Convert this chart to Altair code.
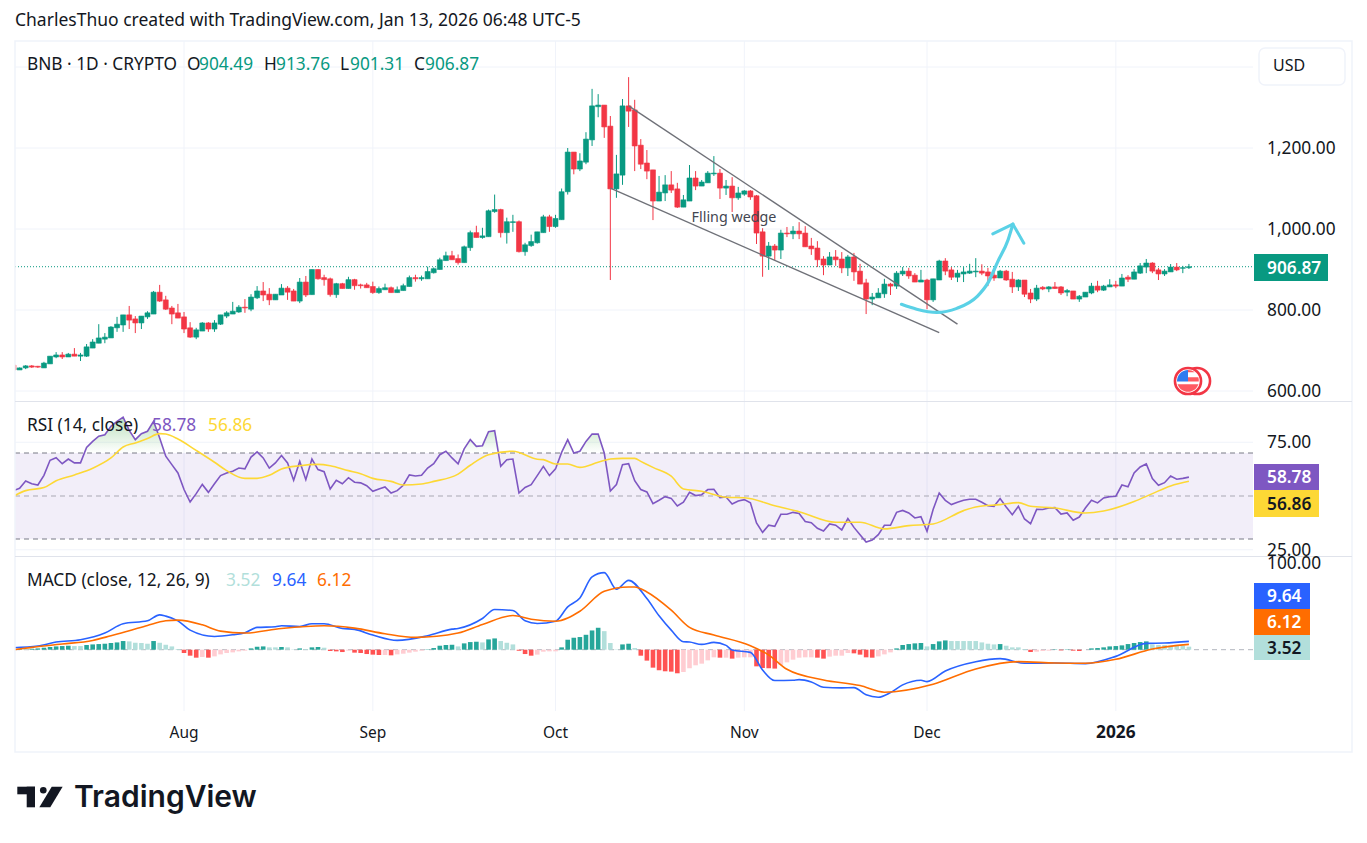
import altair as alt
import pandas as pd

# ---------- candles (daily, 2025-07-04 .. 2026-01-13) ----------
opens = [
 664,652,657,662,661,657,667,684,689,684,691,686,686,706,718,728,731,756,763,788,778,768,783,790,844,825,805,793,
 783,756,733,748,768,753,765,785,790,795,807,802,830,847,839,825,837,854,847,822,869,838,900,880,877,838,865,853,875,862,862,
 858,843,850,855,843,848,858,880,877,877,892,900,922,934,927,917,954,991,979,981,1043,1048,991,1016,1018,944,959,966,991,1030,
 1006,1023,1092,1190,1148,1165,1220,1302,1306,1254,1099,1133,1304,1294,1207,1163,1146,1069,1089,1109,1099,1054,1069,1126,1106,1114,1136,1138,1101,1106,1077,
 1086,1094,1082,993,933,958,948,990,988,995,990,958,953,926,911,931,926,904,931,896,867,827,830,840,864,859,889,896,886,869,
 874,825,874,921,899,881,889,891,894,896,894,886,879,896,876,857,874,842,827,856,852,857,857,844,847,827,832,842,859,849,857,
 862,859,881,876,891,906,916,899,889,894,906,903,904.49]
highs = [
 666,658,664,664,662,672,686,696,696,694,706,694,716,728,765,743,760,783,788,810,785,785,797,847,862,835,810,815,
 795,770,756,770,770,775,788,797,820,812,827,839,859,869,854,839,864,859,852,879,884,900,900,887,880,867,867,882,877,865,867,
 870,858,865,858,858,865,885,887,885,907,905,929,944,946,937,959,996,1008,1003,1048,1085,1050,1028,1035,1021,966,986,993,1035,1035,
 1035,1100,1200,1190,1187,1239,1346,1333,1306,1279,1183,1321,1375,1319,1222,1195,1146,1131,1133,1143,1114,1084,1158,1143,1121,1143,1180,1148,1121,1128,1104,
 1096,1096,1084,1002,968,963,998,1005,1007,1017,1007,978,970,933,943,948,943,936,941,914,877,842,854,877,867,896,906,904,891,899,
 877,877,924,928,906,899,906,914,928,913,904,896,899,899,894,876,874,852,862,859,859,869,859,852,847,837,844,867,872,862,876,
 872,889,886,901,916,926,918,904,901,913.5,916,909,913.76]
lows = [
 650,652,654,657,657,657,667,681,679,684,686,674,684,706,718,718,731,746,746,753,743,753,778,790,820,800,765,780,
 743,731,728,748,746,746,763,780,790,793,793,797,827,822,812,825,837,825,822,817,832,838,875,860,833,830,853,853,850,853,855,
 840,840,850,843,843,848,858,870,872,877,890,900,922,924,912,917,946,979,976,981,1040,979,964,993,942,934,956,964,991,993,
 1003,1023,1085,1135,1143,1160,1205,1276,1225,874,1077,1109,1252,1143,1148,1123,1022,1069,1069,1089,1052,1054,1069,1096,1106,1114,1131,1074,1084,1042,1072,
 1082,1072,963,882,899,923,926,980,975,975,956,936,906,886,911,909,891,884,872,864,790,812,830,830,837,852,884,877,869,869,
 802,820,874,886,874,869,869,889,881,886,859,872,879,872,842,847,832,817,822,849,844,852,837,834,827,820,832,839,844,847,857,
 854,859,869,876,889,891,891,874,884,894,896,891,901.31]
closes = [
 652,657,662,659,659,669,686,689,684,691,686,689,709,721,731,733,758,765,788,775,768,785,793,844,822,802,790,780,
 753,733,751,768,753,768,788,793,797,807,805,832,847,837,825,839,854,844,822,869,837,900,877,875,838,865,853,875,860,860,855,
 843,853,855,843,850,860,880,877,880,895,902,924,934,924,917,956,991,979,983,1045,1048,991,1018,1018,944,961,969,993,1030,1006,
 1026,1092,1190,1148,1168,1222,1304,1306,1252,1099,1136,1304,1291,1205,1160,1143,1069,1091,1109,1096,1054,1072,1126,1106,1116,1138,1138,1101,1106,1077,1089,
 1094,1079,990,933,958,948,990,988,995,988,956,951,924,911,931,924,904,931,894,864,827,832,842,864,859,891,896,884,869,874,
 825,877,921,896,881,891,894,896,896,891,884,879,896,874,857,874,839,827,854,852,857,853,842,848,827,834,844,859,849,859,862,
 859,879,876,894,909,916,896,889,896,906,899,904.5,906.87]

# ---------- RSI ----------
rsi = [
 52.5,53.6,57.0,55.7,55.1,59.6,66.6,67.8,65.0,67.2,65.4,65.4,72.6,75.4,77.8,78.5,82.4,84.7,86.7,80.5,76.2,79.0,80.1,84.7,77.0,68.5,64.6,60.7,
 53.0,47.2,51.1,55.4,51.7,55.7,59.5,60.7,61.5,63.0,62.6,68.1,70.5,67.7,63.0,65.4,68.8,65.4,57.3,66.1,57.6,67.2,62.3,61.3,53.3,57.3,55.7,58.5,56.4,56.1,54.8,
 52.2,53.3,54.2,51.4,52.5,55.0,59.8,59.3,59.6,63.0,65.0,69.2,70.8,67.7,65.0,71.9,76.2,73.1,73.4,79.9,80.4,63.8,66.9,67.2,51.4,54.0,55.3,59.5,63.8,59.5,
 62.6,70.3,76.2,70.0,70.8,75.4,78.8,78.8,70.0,52.3,55.3,64.6,65.0,57.1,53.0,51.9,46.4,48.0,49.7,48.9,45.4,47.1,51.7,50.2,50.6,53.0,53.1,49.2,49.5,46.3,47.7,
 48.3,46.8,37.5,33.1,36.4,35.9,41.5,41.5,42.4,41.9,38.1,37.6,35.0,33.7,37.0,36.4,34.2,39.5,35.4,32.0,28.6,29.5,32.0,36.4,36.4,42.4,43.3,42.1,39.8,40.4,
 33.6,43.7,51.4,48.0,46.0,47.1,48.0,48.5,48.5,47.1,45.5,45.2,48.8,44.9,41.3,45.2,39.3,37.1,43.8,43.7,44.4,44.6,41.6,42.1,38.7,40.2,44.4,48.0,46.8,49.1,49.7,
 49.9,55.1,54.3,60.7,63.5,64.9,58.1,55.0,56.2,59.3,57.8,58.2,58.78]
rsi_ma_days = [0,2,5,7,10,13,16,18,20,22,24,25,27,30,33,35,38,40,42,44,47,50,52,55,57,59,62,64,67,69,73,75,78,82,86,87,89,91,93,96,98,100,102,103,105,108,110,113,117,120,125,129,135,139,143,147,151,156,158,162,165,167,171,176,179,184,187,190,193]
rsi_ma = [49.9,52.5,53.9,57.1,59.8,62.9,67.7,72.8,74.7,76.8,79.0,78.8,76.5,71.2,65.7,61.8,58.2,58.2,59.6,62.6,64.1,64.7,64.1,61.8,60.4,58.2,56.8,55.1,55.6,56.8,60.2,64.3,69.2,70.8,67.1,66.9,64.9,64.9,63.3,65.7,67.2,67.5,67.5,66.1,63.3,59.2,53.3,52.2,49.4,49.2,45.5,42.7,37.8,37.8,34.7,36.2,37.0,43.2,44.9,46.0,46.9,45.2,44.4,42.1,43.0,47.4,51.1,54.7,56.86]

# ---------- MACD ----------
macd_days = [0,4,7,11,15,18,22,24,25,27,29,33,36,38,40,43,44,47,49,51,54,56,59,63,68,72,73,77,79,82,84,86,89,91,93,95,97,99,101,104,106,108,110,111,113,115,117,118,121,123,125,128,129,131,133,136,138,140,142,144,146,149,150,153,158,162,166,171,176,181,186,189,193]
macd = [2.3,4.2,8.8,11.5,19.2,29.9,33.3,40.2,38.7,33.3,22.6,15.3,17.2,19.5,25.7,26.4,27.6,26.8,29.9,29.9,24.5,23.4,16.9,10.7,16.1,23.7,24.5,36.0,46.3,45.2,33.3,30.3,32.9,49.4,59.7,83.9,88.9,69.7,80.0,59.0,39.1,22.6,9.2,8.8,6.1,8.4,5.0,-0.4,-3.1,-23.4,-35.6,-35.2,-34.5,-37.2,-43.3,-44.0,-43.7,-52.1,-54.8,-49.4,-40.6,-35.2,-36.8,-24.5,-13.8,-10.3,-15.7,-15.3,-16.1,-7.7,7.3,7.7,9.64]
signal_days = [0,3,8,13,16,19,22,25,27,31,34,38,44,51,56,61,66,73,77,82,85,89,93,97,101,102,104,108,111,115,121,124,127,133,139,143,151,158,165,171,176,181,187,193]
signal = [0,2.7,6.5,10.7,16.1,21.8,28.0,33.3,34.1,28.7,21.4,19.2,24.5,27.6,24.9,18.4,14.2,19.2,29.1,39.4,35.2,32.9,44.4,67.4,72.4,72.4,66.6,45.6,25.7,16.9,4.6,-6.1,-22.6,-34.9,-41.4,-49.0,-39.8,-22.2,-13.8,-15.3,-15.7,-11.1,0.8,6.12]
hist = [
 .4,1.1,.8,1.1,1.5,2.3,3.1,3.8,4.2,4.6,4.2,4.2,5.4,6.1,6.5,6.9,7.7,8.4,10,9.6,8,7.7,6.9,10,8,5.7,3.8,.8,
 -3.8,-6.9,-9.2,-8.4,-9.2,-7.7,-5.4,-3.8,-3.1,-1.9,-1.1,1.5,3.4,3.8,2.7,2.7,3.1,2.7,.4,1.5,.8,2.7,3.1,2.3,-1.5,-1.9,-2.7,-1.1,-3.4,-3.8,-5,
 -5.7,-6.1,-6.1,-6.5,-5.4,-4.6,-3.4,-2.3,-1.1,.4,1.9,4.6,5.4,5.7,3.8,7.3,8.8,9.2,8.4,11.9,13,10,8,6.1,-1.1,-5,-6.9,-5.7,-2.3,-1.9,-1.9,
 2.7,11.5,13.8,14.6,17.2,22.2,25.3,21.4,7.7,.4,6.1,6.9,1.9,-6.9,-12.6,-20.7,-23.7,-24.9,-25.3,-27.2,-25.7,-21.4,-18,-16.1,-12.3,-8.8,-9.2,-9.2,-10.3,-9.2,
 -8.8,-8.8,-19.2,-21.1,-21.4,-21.8,-17.6,-14.6,-11.5,-9.2,-8.8,-8.8,-9.2,-10.3,-8,-6.9,-6.9,-3.8,-4.2,-5.7,-8.8,-9.2,-7.7,-5.4,-3.1,1.5,5.4,6.5,7.3,7.7,
 3.8,6.5,9.6,10.7,10,10,10,10,10,8.4,6.9,6.1,6.5,4.6,2.7,2.7,.8,-2.7,-2.3,-1.5,-1.1,.4,-.8,.4,-1.1,-1.5,0,1.5,1.9,2.7,3.8,
 4.2,5,6.5,7.7,8.8,9.6,6.1,5.4,5.4,4.6,4.6,4.6,3.52]

# ---------- axis text ----------
price_ticks = [1400, 1200, 1000, 800, 600]
price_labels = [(1200, "1,200.00"), (1000, "1,000.00"), (800, "800.00"), (600, "600.00")]
rsi_ticks = [75, 25]
macd_tick = 100
month_days = [28, 59, 89, 120, 150, 181]
month_names = ["Aug", "Sep", "Oct", "Nov", "Dec", "2026"]
last_close = 906.87

# ---------- drawings ----------
upper_days, upper_prices = [101, 155], [1304, 765]
lower_days, lower_prices = [98, 152], [1101, 744]
curve_days = [145.8, 148.3, 151.6, 154.9, 158.2, 160, 161.6, 163.3, 164.1]
curve_prices = [814, 802, 794, 804, 833, 867, 919, 973, 1012]
head_days = [160.8, 164.1, 165.9]
head_prices = [988, 1012, 965]

days = list(range(len(closes)))
df = pd.DataFrame({"day": days, "o": opens, "h": highs, "l": lows, "c": closes})
up = df[df.c >= df.o]
down = df[df.c < df.o]
rsi_df = pd.DataFrame({"day": list(range(len(rsi))), "rsi": rsi})
rsi_df["top"] = rsi_df.rsi.clip(lower=70)
rsi_df["base"] = 70
ma_df = pd.DataFrame({"day": rsi_ma_days, "v": rsi_ma})
macd_df = pd.DataFrame({"day": macd_days, "v": macd})
sig_df = pd.DataFrame({"day": signal_days, "v": signal})

shade = []
for i, v in enumerate(hist):
    prev = hist[i - 1] if i else 0
    if v >= 0:
        shade.append("#26a69a" if v > prev else "#b2dfdb")
    else:
        shade.append("#ff5252" if v < prev else "#ffcdd2")
hist_df = pd.DataFrame({"day": list(range(len(hist))), "v": hist, "zero": 0, "shade": shade})

FONT = "Noto Sans"
UP, DOWN = "#089981", "#f23645"
GRID = "#f0f3fa"
one = pd.DataFrame({"k": [0]})

def scale_y(dom, rng):
    return alt.Scale(domain=dom, range=rng, nice=False, zero=False)

PRICE = scale_y([600, 1400], [383, 59])
RSI = scale_y([30, 70], [531, 445])
MACD = scale_y([0, 100], [641.7, 555])
X = alt.X("day:Q", scale=alt.Scale(domain=[0, 204], range=[5.5, 1247.9], nice=False, zero=False, padding=0), axis=None)

def Yf(field, sc):
    return alt.Y(f"{field}:Q", scale=sc, axis=None)

def px(v):
    return alt.value(v - 8)

def label(text, x, y, color="#131722", size=17.3, weight="normal", align="left", font=FONT):
    return alt.Chart(one).mark_text(align=align, baseline="middle", font=font, fontSize=size,
                                    fontWeight=weight, color=color).encode(
        x=px(x), y=px(y), text=alt.value(text))

def box(x0, x1, y0, y1, fill, **kw):
    return alt.Chart(one).mark_rect(fill=fill, **kw).encode(x=px(x0), x2=px(x1), y=px(y0), y2=px(y1))

def sym(x, y, shape, size, **kw):
    return alt.Chart(one).mark_point(shape=shape, size=size, **kw).encode(x=px(x), y=px(y))

layers = []

# grid
layers.append(alt.Chart(pd.DataFrame({"day": month_days})).mark_rule(color=GRID, strokeWidth=1).encode(
    x=X, y=px(41), y2=px(711)))
layers.append(alt.Chart(pd.DataFrame({"p": price_ticks})).mark_rule(color=GRID, strokeWidth=1).encode(
    y=Yf("p", PRICE), x=px(15), x2=px(1253)))
layers.append(alt.Chart(pd.DataFrame({"p": rsi_ticks})).mark_rule(color=GRID, strokeWidth=1).encode(
    y=Yf("p", RSI), x=px(15), x2=px(1253)))

# price pane
layers.append(alt.Chart(pd.DataFrame({"p": [last_close]})).mark_rule(color=UP, strokeWidth=1, strokeDash=[1, 2]).encode(
    y=Yf("p", PRICE), x=px(15), x2=px(1253)))
for sub, col in ((up, UP), (down, DOWN)):
    layers.append(alt.Chart(sub).mark_rule(color=col, strokeWidth=1).encode(
        x=X, y=Yf("l", PRICE), y2=alt.Y2("h:Q")))
    layers.append(alt.Chart(sub).mark_bar(color=col, size=5, stroke=col, strokeWidth=0.6).encode(
        x=X, y=Yf("o", PRICE), y2=alt.Y2("c:Q")))
for ds, ps in ((upper_days, upper_prices), (lower_days, lower_prices)):
    layers.append(alt.Chart(pd.DataFrame({"day": ds, "p": ps})).mark_line(color="#6f7178", strokeWidth=1.4).encode(
        x=X, y=Yf("p", PRICE)))
layers.append(alt.Chart(pd.DataFrame({"day": curve_days, "p": curve_prices})).mark_line(
    color="#5ad1e6", strokeWidth=3.2, interpolate="monotone", strokeCap="round").encode(x=X, y=Yf("p", PRICE)))
layers.append(alt.Chart(pd.DataFrame({"day": head_days, "p": head_prices})).mark_line(
    color="#5ad1e6", strokeWidth=3, strokeCap="round", strokeJoin="round").encode(x=X, y=Yf("p", PRICE)))
layers.append(alt.Chart(pd.DataFrame({"day": [118.3], "p": [1028], "t": ["Flling wedge"]})).mark_text(
    font=FONT, fontSize=14.3, color="#434651", baseline="middle").encode(x=X, y=Yf("p", PRICE), text="t:N"))

# RSI pane
layers.append(alt.Chart(pd.DataFrame({"lo": [30], "hi": [70]})).mark_rect(fill="#7e57c2", opacity=0.1).encode(
    y=Yf("lo", RSI), y2=alt.Y2("hi:Q"), x=px(15), x2=px(1253)))
layers.append(alt.Chart(pd.DataFrame({"lvl": [70, 50, 30], "c": ["#787b86", "#a9a8b3", "#787b86"]})).mark_rule(
    strokeWidth=1, strokeDash=[5, 4]).encode(
    y=Yf("lvl", RSI), x=px(15), x2=px(1253), color=alt.Color("c:N", scale=None)))
layers.append(alt.Chart(rsi_df).mark_area(
    color=alt.Gradient(gradient="linear", x1=0, x2=0, y1=0, y2=1, stops=[
        alt.GradientStop(color="rgba(76,175,80,0.38)", offset=0),
        alt.GradientStop(color="rgba(76,175,80,0)", offset=1)])).encode(
    x=X, y=Yf("top", RSI), y2=alt.Y2("base:Q")))
layers.append(alt.Chart(rsi_df).mark_line(color="#7e57c2", strokeWidth=1.6).encode(x=X, y=Yf("rsi", RSI)))
layers.append(alt.Chart(ma_df).mark_line(color="#fdd835", strokeWidth=1.6, interpolate="monotone").encode(x=X, y=Yf("v", RSI)))

# MACD pane
layers.append(alt.Chart(pd.DataFrame({"v": [0]})).mark_rule(color="#b2b5be", strokeWidth=1, strokeDash=[5, 4]).encode(
    y=Yf("v", MACD), x=px(15), x2=px(1253)))
layers.append(alt.Chart(hist_df).mark_bar(size=4.6).encode(
    x=X, y=Yf("v", MACD), y2=alt.Y2("zero:Q"), color=alt.Color("shade:N", scale=None)))
layers.append(alt.Chart(macd_df).mark_line(color="#2962ff", strokeWidth=1.6, interpolate="monotone").encode(x=X, y=Yf("v", MACD)))
layers.append(alt.Chart(sig_df).mark_line(color="#ff6d00", strokeWidth=1.6, interpolate="monotone").encode(x=X, y=Yf("v", MACD)))

# chart frame, pane separators, left cover
layers.append(box(8, 15, 41, 752, "#ffffff"))
layers.append(alt.Chart(one).mark_rect(fill="transparent", stroke="#f0f3fa", strokeWidth=1.5).encode(
    x=px(15), x2=px(1352), y=px(41), y2=px(752)))
layers.append(box(15, 1352, 401, 402, "#e0e3eb"))
layers.append(box(15, 1352, 556, 557, "#e0e3eb"))

# headers
layers.append(label("CharlesThuo created with TradingView.com, Jan 13, 2026 06:48 UTC-5", 15, 21, size=17.5))
layers.append(label("BNB · 1D · CRYPTO", 27, 65))
for txt, x, c in (("O", 187, "#131722"), ("904.49", 199, UP), ("H", 264, "#131722"), ("913.76", 276, UP),
                  ("L", 340, "#131722"), ("901.31", 350, UP), ("C", 414, "#131722"), ("906.87", 425, UP)):
    layers.append(label(txt, x, 65, color=c))
layers.append(label("RSI (14, close)", 27, 426))
layers.append(label("58.78", 152, 426, color="#7e57c2"))
layers.append(label("56.86", 208, 426, color="#fdd835"))
layers.append(label("MACD (close, 12, 26, 9)", 27, 581))
layers.append(label("3.52", 226, 581, color="#b2dfdb"))
layers.append(label("9.64", 272, 581, color="#2962ff"))
layers.append(label("6.12", 317, 581, color="#ff6d00"))

# price axis
for val, txt in price_labels:
    layers.append(alt.Chart(pd.DataFrame({"p": [val], "t": [txt]})).mark_text(
        align="left", baseline="middle", dy=1, font=FONT, fontSize=17.3, color="#131722").encode(
        x=px(1267), y=Yf("p", PRICE), text="t:N"))
for val in rsi_ticks:
    layers.append(alt.Chart(pd.DataFrame({"p": [val], "t": [f"{val}.00"]})).mark_text(
        align="left", baseline="middle", dy=1, font=FONT, fontSize=17.3, color="#131722").encode(
        x=px(1267), y=Yf("p", RSI), text="t:N"))
layers.append(alt.Chart(pd.DataFrame({"p": [macd_tick], "t": [f"{macd_tick}.00"]})).mark_text(
    align="left", baseline="middle", dy=1, font=FONT, fontSize=17.3, color="#131722").encode(
    x=px(1267), y=Yf("p", MACD), text="t:N"))

# value tags
for x1, y0, y1, fill, txt, tc in ((1328, 254, 281, UP, "906.87", "#ffffff"),
                                  (1319, 464, 490, "#7e57c2", "58.78", "#ffffff"),
                                  (1319, 490, 517, "#fdd835", "56.86", "#131722"),
                                  (1310, 583, 609, "#2962ff", "9.64", "#ffffff"),
                                  (1310, 609, 635, "#ff6d00", "6.12", "#ffffff"),
                                  (1310, 635, 660, "#b2dfdb", "3.52", "#131722")):
    layers.append(box(1254, x1, y0, y1, fill))
    layers.append(label(txt, 1267, (y0 + y1) / 2 + 1, color=tc, weight=600))

# USD box
layers.append(alt.Chart(one).mark_rect(fill="#ffffff", stroke="#f0f3fa", strokeWidth=1.5, cornerRadius=6).encode(
    x=px(1259), x2=px(1345), y=px(48), y2=px(85)))
layers.append(label("USD", 1273, 66, size=16))

# time axis
for d, name in zip(month_days, month_names):
    is_year = name == "2026"
    layers.append(alt.Chart(pd.DataFrame({"day": [d], "t": [name]})).mark_text(
        baseline="middle", font=FONT, fontSize=17.3 if is_year else 15.5, color="#131722",
        fontWeight="bold" if is_year else "normal").encode(x=X, y=px(733), text="t:N"))

# event flag
layers.append(sym(1197, 381, "circle", 680, filled=True, fill="#ffffff", stroke=DOWN, strokeWidth=2.6, opacity=1))
layers.append(sym(1188, 381, "circle", 680, filled=True, fill="#ffffff", stroke=DOWN, strokeWidth=2.6, opacity=1))
layers.append(sym(1188, 381, "M-0.95,0.3 L0.95,0.3 A1,1 0 0 1 -0.95,0.3 Z", 484, filled=True, fill="#ff5a62", strokeWidth=0, opacity=1))
layers.append(sym(1188, 381, "M0,-0.35 L0.94,-0.35 A1,1 0 0 1 0.98,0.05 L0,0.05 Z", 484, filled=True, fill="#ff5a62", strokeWidth=0, opacity=1))
layers.append(sym(1188, 381, "M0,-1 A1,1 0 0 1 0.6,-0.8 L0,-0.8 Z", 484, filled=True, fill="#ff5a62", strokeWidth=0, opacity=1))
layers.append(sym(1188, 381, "M-1,0.05 A1,1 0 0 1 0,-1 L0,0.05 Z", 484, filled=True, fill="#2f7bf0", strokeWidth=0, opacity=1))

# logo
layers.append(box(17.3, 35, 786.7, 794.3, "#131722"))
layers.append(box(26.7, 35, 786.7, 807.3, "#131722"))
layers.append(sym(43.3, 790.3, "circle", 44, filled=True, fill="#131722", strokeWidth=0, opacity=1))
layers.append(sym(51, 797, "M0.07,-1 L1.13,-1 L-0.07,1 L-1.13,1 Z", 424, filled=True, fill="#131722", strokeWidth=0, opacity=1))
layers.append(label("TradingView", 74, 798, size=30, weight=600, font="Inter"))

chart = alt.layer(*layers).resolve_scale(y="independent").properties(
    width=1351, height=815, padding=0, autosize=alt.AutoSizeParams(type="none")
).configure_view(stroke=None)

chart.save("out.html", embed_options={"renderer": "svg", "actions": False})
